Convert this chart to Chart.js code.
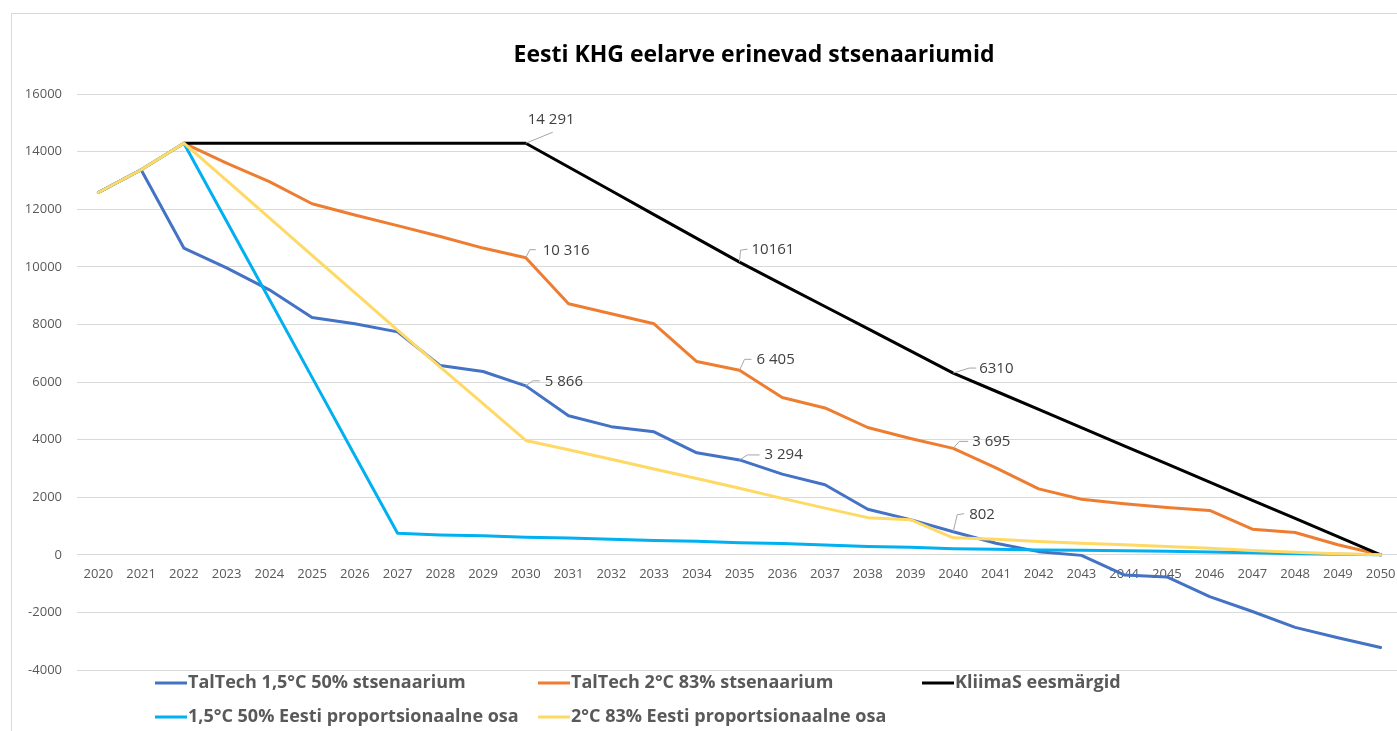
<!DOCTYPE html>
<html>
<head>
<meta charset="utf-8">
<title>Eesti KHG eelarve erinevad stsenaariumid</title>
<script src="https://cdn.jsdelivr.net/npm/chart.js"></script>
<style>
  body { margin: 0; overflow: hidden; background: #fff; }
  #wrap { position: relative; width: 1508px; height: 731px; }
</style>
</head>
<body>
<div id="wrap"><canvas id="chart" width="1508" height="731"></canvas></div>
<script>
// data (kt CO2 ekv)
const years = ['2020', '2021', '2022', '2023', '2024', '2025', '2026', '2027', '2028', '2029', '2030',
    '2031', '2032', '2033', '2034', '2035', '2036', '2037', '2038', '2039', '2040',
    '2041', '2042', '2043', '2044', '2045', '2046', '2047', '2048', '2049', '2050']

const taltech15 = [12580, 13370, 10650, 9960, 9200, 8240, 8020, 7740, 6570, 6365, 5866,
    4830, 4450, 4270, 3540, 3294, 2800, 2430, 1580, 1220, 802,
    400, 110, -20, -700, -770, -1450, -1970, -2520, -2880, -3220]

const taltech2 = [12580, 13370, 14291, 13600, 12960, 12190, 11800, 11430, 11050, 10650, 10316,
    8715, 8370, 8020, 6710, 6405, 5460, 5100, 4420, 4040, 3695,
    3020, 2290, 1930, 1770, 1640, 1540, 890, 775, 350, 0]

const kliimas = [null, null, 14291, 14291, 14291, 14291, 14291, 14291, 14291, 14291, 14291,
    13465, 12639, 11813, 10987, 10161, 9391, 8621, 7851, 7081, 6310,
    5679, 5048, 4417, 3786, 3155, 2524, 1893, 1262, 631, 0]

const prop15 = [12580, 13370, 14291, 11580, 8870, 6160, 3450, 750, 690, 660, 610,
    580, 540, 500, 470, 420, 390, 340, 290, 260, 210,
    190, 170, 160, 140, 120, 100, 70, 40, 20, 0]

const prop2 = [12580, 13370, 14291, 13000, 11700, 10400, 9100, 7800, 6520, 5250, 3970,
    3650, 3320, 2980, 2650, 2310, 1960, 1620, 1290, 1220, 590,
    540, 460, 405, 350, 290, 230, 150, 90, 40, 0]

const seriesNames = ['TalTech 1,5°C 50% stsenaarium', 'TalTech 2°C 83% stsenaarium', 'KliimaS eesmärgid',
    '1,5°C 50% Eesti proportsionaalne osa', '2°C 83% Eesti proportsionaalne osa']

// [series, year, text]
const pointLabels = [
    [2, '2030', '14 291'], [1, '2030', '10 316'], [0, '2030', '5 866'],
    [2, '2035', '10161'], [1, '2035', '6 405'], [0, '2035', '3 294'],
    [2, '2040', '6310'], [1, '2040', '3 695'], [0, '2040', '802']
]

// where each label sits relative to its point, and its leader line
const labelOffsets = [
    { text: [2, -23], leader: [[27, -11]] },
    { text: [17, -7], leader: [[4, -8], [10, -8]] },
    { text: [19, -4], leader: [[7, -5], [14, -5]] },
    { text: [12, -12], leader: [[1, -12], [8, -13]] },
    { text: [17, -11], leader: [[5, -11], [12, -11]] },
    { text: [25, -5], leader: [[8, -5], [20, -5]] },
    { text: [26, -4], leader: [[16, -5], [23, -5]] },
    { text: [19, -7], leader: [[6, -7], [15, -7]] },
    { text: [16, -17], leader: [[4, -17], [11, -18]] }
]

const colors = ['#4472C4', '#ED7D31', '#000000', '#00B0F0', '#FFD966']
const legendCols = [155, 538, 922]
const legendRows = [683, 717]

const frame = {
    id: 'frame',
    beforeDraw(chart) {
        const ctx = chart.ctx
        ctx.save()
        ctx.strokeStyle = '#d9d9d9'
        ctx.lineWidth = 1
        ctx.strokeRect(11.5, 13.5, 2000, 2000)
        ctx.restore()
    }
}

const leaders = {
    id: 'leaders',
    afterDatasetsDraw(chart) {
        const ctx = chart.ctx
        ctx.save()
        ctx.font = '15px "Open Sans"'
        ctx.textBaseline = 'middle'
        ctx.textAlign = 'left'
        pointLabels.forEach((pl, i) => {
            const pt = chart.getDatasetMeta(pl[0]).data[years.indexOf(pl[1])]
            const off = labelOffsets[i]
            ctx.strokeStyle = '#a6a6a6'
            ctx.lineWidth = 1
            ctx.beginPath()
            ctx.moveTo(pt.x, pt.y)
            off.leader.forEach(p => ctx.lineTo(pt.x + p[0], pt.y + p[1]))
            ctx.stroke()
            ctx.fillStyle = '#404040'
            ctx.fillText(pl[2], pt.x + off.text[0], pt.y + off.text[1])
        })
        ctx.restore()
    }
}

const bottomLegend = {
    id: 'bottomLegend',
    afterDraw(chart) {
        const ctx = chart.ctx
        ctx.save()
        ctx.font = 'bold 18px "Open Sans"'
        ctx.textBaseline = 'middle'
        ctx.textAlign = 'left'
        chart.data.datasets.forEach((ds, i) => {
            const x = legendCols[i % 3]
            const y = legendRows[Math.floor(i / 3)]
            ctx.fillStyle = ds.borderColor
            ctx.fillRect(x, y - 1.5, 32, 3)
            ctx.fillStyle = '#595959'
            ctx.fillText(ds.label, x + 33, y)
        })
        ctx.restore()
    }
}

function makeSet(i, values, order) {
    return {
        label: seriesNames[i],
        data: values,
        borderColor: colors[i],
        backgroundColor: colors[i],
        borderWidth: 3,
        pointRadius: 0,
        tension: 0,
        borderJoinStyle: 'round',
        borderCapStyle: 'round',
        order: order
    }
}

window.onload = () => {
    const tickFont = { family: 'Open Sans', size: 13 }
    new Chart(document.getElementById('chart'), {
        type: 'line',
        data: {
            labels: years,
            datasets: [
                makeSet(0, taltech15, 5),
                makeSet(1, taltech2, 4),
                makeSet(2, kliimas, 3),
                makeSet(3, prop15, 2),
                makeSet(4, prop2, 1)
            ]
        },
        options: {
            responsive: false,
            animation: false,
            devicePixelRatio: 1,
            events: [],
            layout: { padding: { top: 0, left: 0, right: 0, bottom: 61 } },
            plugins: {
                legend: { display: false },
                tooltip: { enabled: false },
                title: {
                    display: true,
                    text: 'Eesti KHG eelarve erinevad stsenaariumid',
                    color: '#000',
                    font: { family: 'Open Sans', size: 23, weight: 'bold' },
                    padding: { top: 42, bottom: 24.4 }
                }
            },
            scales: {
                x: {
                    position: { y: 0 },
                    offset: true,
                    grid: { display: false, drawTicks: false },
                    border: { display: false },
                    ticks: { color: '#595959', font: tickFont, padding: 12, maxRotation: 0, autoSkip: false }
                },
                y: {
                    position: 'left',
                    min: -4000,
                    max: 16000,
                    grid: { color: '#d9d9d9', drawTicks: false },
                    border: { display: false },
                    ticks: { stepSize: 2000, color: '#595959', font: tickFont, padding: 15, callback: v => v },
                    afterFit: s => { s.width = 77 }
                },
                y2: {
                    type: 'linear',
                    position: 'right',
                    grid: { display: false, drawTicks: false },
                    border: { display: false },
                    ticks: { display: false },
                    afterFit: s => { s.width = 106 }
                }
            }
        },
        plugins: [frame, leaders, bottomLegend]
    })
}
</script>
</body>
</html>
